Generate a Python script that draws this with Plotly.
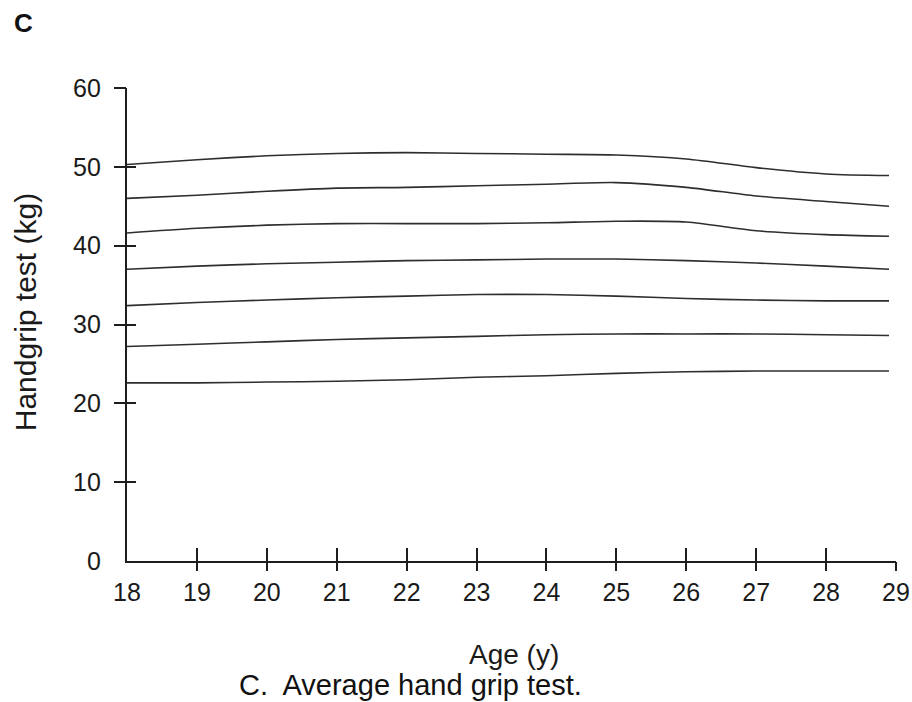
import plotly.graph_objects as go

ages = [18, 19, 20, 21, 22, 23, 24, 25, 26, 27, 28, 28.9]
p1 = [50.3, 50.9, 51.4, 51.7, 51.8, 51.7, 51.6, 51.5, 51.0, 49.9, 49.1, 48.9]
p2 = [46.0, 46.4, 46.9, 47.3, 47.4, 47.6, 47.8, 48.0, 47.4, 46.3, 45.6, 45.0]
p3 = [41.6, 42.2, 42.6, 42.8, 42.8, 42.8, 42.9, 43.1, 43.0, 41.9, 41.4, 41.2]
p4 = [37.0, 37.4, 37.7, 37.9, 38.1, 38.2, 38.3, 38.3, 38.1, 37.8, 37.4, 37.0]
p5 = [32.4, 32.8, 33.1, 33.4, 33.6, 33.8, 33.8, 33.6, 33.3, 33.1, 33.0, 33.0]
p6 = [27.2, 27.5, 27.8, 28.1, 28.3, 28.5, 28.7, 28.8, 28.8, 28.8, 28.7, 28.6]
p7 = [22.6, 22.6, 22.7, 22.8, 23.0, 23.3, 23.5, 23.8, 24.0, 24.1, 24.1, 24.1]
series = [p1, p2, p3, p4, p5, p6, p7]

x_ticks = list(range(18, 30))
x_mark_ticks = list(range(19, 30))
y_ticks = list(range(0, 61, 10))
y_mark_ticks = list(range(10, 61, 10))

FONT = "Liberation Sans, Arial, sans-serif"
AX = "#1e1e1e"

fig = go.Figure()
for s in series:
    fig.add_trace(go.Scatter(x=ages, y=s, mode="lines",
                             line=dict(color="#2e2e2e", width=1.6, shape="spline", smoothing=0.8),
                             showlegend=False, hoverinfo="skip"))
# invisible traces to anchor tick-mark axes
fig.add_trace(go.Scatter(x=[18], y=[0], xaxis="x2", yaxis="y2", mode="markers",
                         marker=dict(opacity=0), showlegend=False, hoverinfo="skip"))
fig.add_trace(go.Scatter(x=[18], y=[0], xaxis="x3", yaxis="y3", mode="markers",
                         marker=dict(opacity=0), showlegend=False, hoverinfo="skip"))

common_x = dict(range=[18, 29], showgrid=False, zeroline=False, automargin=False)
common_y = dict(range=[0, 60], showgrid=False, zeroline=False, automargin=False)

fig.update_layout(
    width=912, height=702,
    margin=dict(l=127, r=16, t=88, b=141),
    paper_bgcolor="white", plot_bgcolor="white",
    font=dict(family=FONT, color="#222"),
    xaxis=dict(**common_x, tickvals=x_ticks, ticktext=[str(v) for v in x_ticks],
               ticks="", showline=True, linecolor=AX, linewidth=2.4,
               tickfont=dict(size=25, family=FONT, color="#1a1a1a"), ticklabelstandoff=8),
    yaxis=dict(**common_y, tickvals=y_ticks, ticktext=[str(v) for v in y_ticks],
               ticks="", showline=True, linecolor=AX, linewidth=2.4,
               tickfont=dict(size=25, family=FONT, color="#1a1a1a"), ticklabelstandoff=19),
    xaxis2=dict(**common_x, overlaying="x", anchor="y2", tickvals=x_mark_ticks,
                ticks="outside", ticklen=9, tickwidth=2.4, tickcolor=AX,
                showticklabels=False, showline=False),
    yaxis2=dict(**common_y, overlaying="y", anchor="x2", tickvals=y_mark_ticks,
                ticks="outside", ticklen=12, tickwidth=2.4, tickcolor=AX,
                showticklabels=False, showline=False),
    xaxis3=dict(**common_x, overlaying="x", anchor="y3", tickvals=x_mark_ticks,
                ticks="inside", ticklen=13, tickwidth=2.4, tickcolor=AX,
                showticklabels=False, showline=False),
    yaxis3=dict(**common_y, overlaying="y", anchor="x3", tickvals=y_mark_ticks,
                ticks="inside", ticklen=9, tickwidth=2.4, tickcolor=AX,
                showticklabels=False, showline=False),
    annotations=[
        dict(text="<b>C</b>", xref="paper", yref="paper", x=-0.134, y=1.137,
             showarrow=False, font=dict(size=26, family=FONT, color="#111"),
             xanchor="center", yanchor="middle"),
        dict(text="Handgrip test (kg)", xref="paper", yref="paper", x=-0.1326, y=0.526,
             textangle=-90, showarrow=False, font=dict(size=30, family=FONT, color="#1a1a1a"),
             xanchor="center", yanchor="middle"),
        dict(text="Age (y)", xref="paper", yref="paper", x=0.503, y=-0.1987,
             showarrow=False, font=dict(size=28, family=FONT, color="#1a1a1a"),
             xanchor="center", yanchor="middle"),
        dict(text="C.  Average hand grip test.", xref="paper", yref="paper", x=0.369, y=-0.262,
             showarrow=False, font=dict(size=29, family=FONT, color="#111"),
             xanchor="center", yanchor="middle"),
    ],
)

fig.write_html("out.html", config={"displayModeBar": False},
               post_script="document.body.style.margin='0';document.body.style.overflow='hidden';")
